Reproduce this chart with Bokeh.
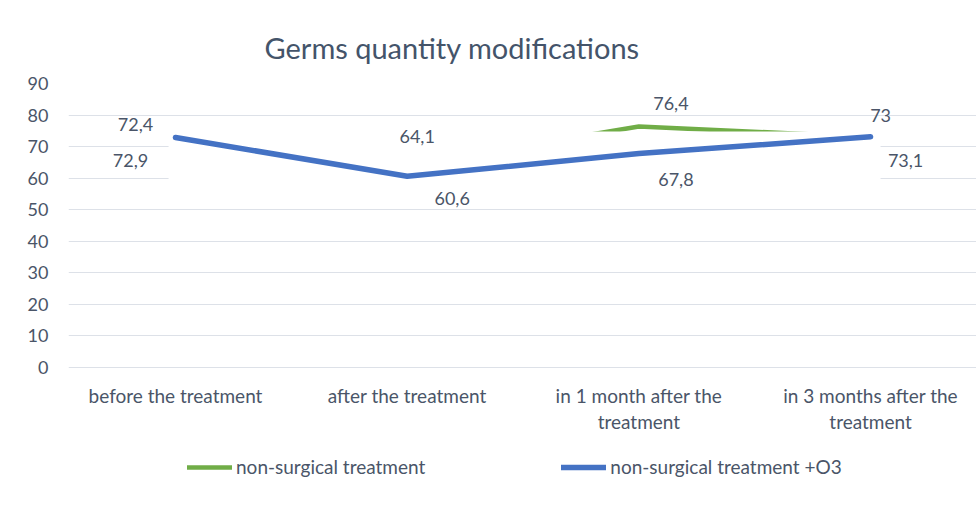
from bokeh.plotting import figure
from bokeh.models import FixedTicker, Range1d, Legend, LegendItem, ColumnDataSource
from bokeh.core.properties import value
from bokeh.embed import file_html
from bokeh.resources import INLINE

# ---- data ----
categories = [
    "before the treatment",
    "after the treatment",
    "in 1 month after the\ntreatment",
    "in 3 months after the\ntreatment",
]
series_names = ["non-surgical treatment", "non-surgical treatment +O3"]
non_surgical = [72.4, 64.1, 76.4, 73.0]
non_surgical_o3 = [72.9, 60.6, 67.8, 73.1]
y_ticks = [0, 10, 20, 30, 40, 50, 60, 70, 80, 90]

# ---- styling ----
FONT = "Lato"
TXT = "#4A5568"
GREEN = "#70AD47"
BLUE = "#4472C4"
green_dx = [-40, 10, 32, 10]
green_dy = [-15, -29, -23, -22]
blue_dx = [-45, 45, 37, 35]
blue_dy = [23, 22, 26, 24]


def fmt(v):
    return ("%g" % v).replace(".", ",")


xs = list(range(len(categories)))

p = figure(width=976, height=504, output_backend="svg", toolbar_location=None,
           x_range=Range1d(-0.4618, 3.4571), y_range=Range1d(-43.4, 90),
           min_border_left=68, min_border_right=0, min_border_top=83,
           min_border_bottom=0, title="Germs quantity modifications")
p.outline_line_color = None
p.background_fill_color = "white"
p.border_fill_color = "white"

p.title.text_font = FONT
p.title.text_font_size = "29px"
p.title.text_font_style = "normal"
p.title.text_color = "#44546A"
p.title.align = "left"
p.title.offset = 196
p.title.standoff = 38

p.xgrid.grid_line_color = None
p.ygrid.grid_line_color = "#DDE1E8"
p.ygrid.grid_line_width = 1

p.xaxis.visible = False
p.yaxis.ticker = FixedTicker(ticks=y_ticks)
ax = p.yaxis
ax.axis_line_color = None
ax.major_tick_line_color = None
ax.minor_tick_line_color = None
ax.major_tick_out = 0
ax.major_tick_in = 0
ax.major_label_text_font = FONT
ax.major_label_text_color = TXT
ax.major_label_text_font_size = "18px"
ax.major_label_standoff = 20

src = ColumnDataSource(dict(
    x=xs, g=non_surgical, b=non_surgical_o3, zero=[0] * len(xs), cat=categories,
    gl=[fmt(v) for v in non_surgical], bl=[fmt(v) for v in non_surgical_o3],
    gdx=green_dx, gdy=green_dy, bdx=blue_dx, bdy=blue_dy,
))

# category labels under the zero line
p.text("x", "zero", text="cat", source=src, y_offset=16,
       text_font=value(FONT), text_font_size="19px", text_color=TXT,
       text_align="center", text_baseline="top", text_line_height=1.15)

r_green = p.line("x", "g", source=src, line_color=GREEN, line_width=4.5, line_cap="round")
# white plot-area patch that hides part of the chart in the reference
p.quad(left=[-0.03], right=[3.043], top=[74.8], bottom=[55.0],
       fill_color="white", line_color=None)
r_blue = p.line("x", "b", source=src, line_color=BLUE, line_width=5.5, line_cap="round")

p.text("x", "g", text="gl", source=src, x_offset="gdx", y_offset="gdy",
       text_font=value(FONT), text_font_size="18px", text_color=TXT,
       text_align="center", text_baseline="middle")
p.text("x", "b", text="bl", source=src, x_offset="bdx", y_offset="bdy",
       text_font=value(FONT), text_font_size="18px", text_color=TXT,
       text_align="center", text_baseline="middle")

legend = Legend(items=[LegendItem(label=series_names[0], renderers=[r_green]),
                       LegendItem(label=series_names[1], renderers=[r_blue])],
                orientation="horizontal", location=(119, 26))
legend.glyph_width = 45
legend.label_standoff = 4
legend.spacing = 136
legend.padding = 0
legend.margin = 0
legend.border_line_color = None
legend.background_fill_alpha = 0
legend.label_text_font = FONT
legend.label_text_font_size = "19px"
legend.label_text_color = TXT
p.add_layout(legend, "center")

open("out.html", "w").write(file_html(p, INLINE))
